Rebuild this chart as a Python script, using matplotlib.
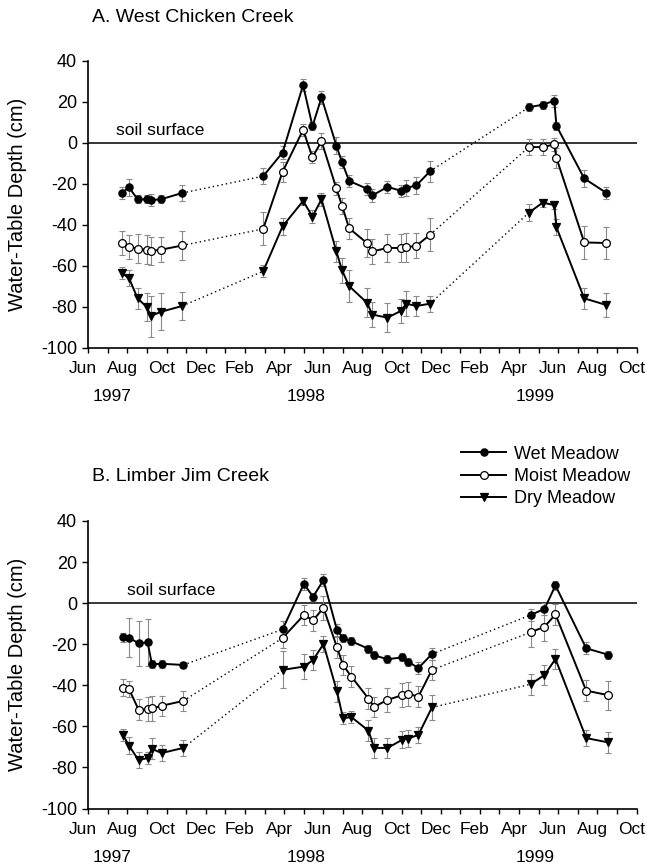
import matplotlib
matplotlib.use('Agg')
import matplotlib.pyplot as plt
import matplotlib.transforms as mtransforms
from matplotlib.lines import Line2D
plt.rc('font', family='Liberation Sans', size=12.5)
plt.rcParams['axes.unicode_minus'] = False

# months counted from 1 Jun 1997
month_ticks = list(range(0, 29))
month_names = ['Jun', 'Aug', 'Oct', 'Dec', 'Feb', 'Apr', 'Jun', 'Aug', 'Oct', 'Dec', 'Feb', 'Apr', 'Jun', 'Aug', 'Oct']
years = ['1997', '1998', '1999']
year_pos = [1.2, 11.1, 22.8]

# --- A. West Chicken Creek ---
A_m97 = [1.70, 2.08, 2.52, 2.98, 3.20, 3.69, 4.80]
A_m98 = [8.93, 9.92, 10.97, 11.45, 11.91, 12.67, 12.96, 13.32, 14.23, 14.51, 15.28, 15.97, 16.24, 16.76, 17.45]
A_m99 = [22.50, 23.21, 23.80, 23.91, 25.33, 26.45]

A_wet97 = [-24.3, -21.7, -27.5, -27.5, -27.8, -27.5, -24.4]
A_wet98 = [-16.2, -4.7, 28.2, 8.2, 22.2, -1.3, -9.4, -18.5, -22.3, -25.6, -21.4, -23.3, -21.9, -20.7, -13.8]
A_wet99 = [17.4, 18.7, 20.6, 8.4, -17.3, -24.3]
A_moist97 = [-48.8, -50.7, -51.6, -52.1, -52.7, -52.1, -50.0]
A_moist98 = [-41.9, -14.1, 6.4, -7.0, 0.9, -22.2, -30.6, -41.6, -48.8, -52.9, -51.2, -51.2, -50.9, -50.1, -44.8]
A_moist99 = [-2.0, -2.0, -0.7, -7.3, -48.5, -48.8]
A_dry97 = [-63.3, -66.0, -75.8, -80.0, -84.4, -82.4, -79.5]
A_dry98 = [-62.6, -40.7, -28.3, -35.9, -27.5, -52.9, -62.1, -69.8, -77.9, -83.7, -85.2, -81.9, -78.4, -79.5, -78.4]
A_dry99 = [-34.0, -29.1, -30.3, -41.1, -75.8, -79.0]

A_wet97_e = [3, 4, 2, 2, 3, 2, 4]
A_wet98_e = [4, 3, 3, 2, 3, 4, 3, 3, 3, 3, 3, 3, 4, 4, 5]
A_wet99_e = [2, 2, 3, 2, 4, 3]
A_moist97_e = [6, 6, 7, 7, 7, 6, 7]
A_moist98_e = [8, 5, 3, 3, 4, 3, 4, 5, 7, 6, 7, 7, 7, 6, 8]
A_moist99_e = [4, 4, 3, 5, 8, 8]
A_dry97_e = [3, 4, 5, 7, 10, 9, 7]
A_dry98_e = [3, 4, 2, 3, 3, 5, 6, 8, 7, 6, 7, 6, 6, 5, 4]
A_dry99_e = [4, 2, 2, 4, 5, 6]

# --- B. Limber Jim Creek ---
B_m97 = [1.76, 2.08, 2.57, 3.03, 3.25, 3.74, 4.85]
B_m98 = [9.92, 11.01, 11.48, 12.01, 12.70, 13.01, 13.44, 14.31, 14.60, 15.28, 16.04, 16.33, 16.86, 17.55]
B_m99 = [22.59, 23.30, 23.86, 25.43, 26.55]

B_wet97 = [-16.7, -16.8, -19.6, -19.1, -29.8, -29.5, -30.1]
B_wet98 = [-12.8, 9.4, 3.1, 11.2, -13.1, -17.0, -18.6, -22.2, -25.4, -27.3, -26.4, -28.5, -31.6, -24.8]
B_wet99 = [-5.8, -2.8, 8.6, -22.0, -25.1]
B_moist97 = [-41.1, -41.9, -51.9, -51.6, -51.3, -50.0, -47.6]
B_moist98 = [-17.0, -5.8, -8.4, -2.3, -21.5, -30.2, -35.8, -46.5, -50.5, -47.1, -44.8, -44.2, -45.5, -32.5]
B_moist99 = [-14.2, -11.5, -5.5, -42.6, -44.8]
B_dry97 = [-64.1, -69.4, -76.5, -75.4, -70.9, -73.0, -70.5]
B_dry98 = [-32.5, -30.9, -27.7, -19.9, -43.0, -56.0, -55.5, -62.1, -70.5, -70.5, -66.5, -66.0, -64.1, -50.8]
B_dry99 = [-39.5, -35.0, -27.2, -65.7, -67.8]

B_wet97_e = [2, 9.5, 11, 11.5, 2, 2, 1.5]
B_wet98_e = [4, 3, 2, 3, 3, 2, 2, 2, 2, 2, 2, 2, 3, 3]
B_wet99_e = [3, 3, 2, 3, 2]
B_moist97_e = [4, 4, 5, 6, 6, 5, 5]
B_moist98_e = [5, 5, 5, 6, 5, 5, 5, 5, 5, 6, 6, 6, 5, 5]
B_moist99_e = [7, 7, 5, 5, 7]
B_dry97_e = [3, 4, 4, 3, 5, 4, 4]
B_dry98_e = [9, 6, 5, 4, 5, 3, 3, 5, 5, 5, 4, 4, 4, 6]
B_dry99_e = [5, 5, 5, 4, 5]

styles = {
    'Wet Meadow': dict(marker='o', mfc='black', ms=5.2),
    'Moist Meadow': dict(marker='o', mfc='white', ms=5.6),
    'Dry Meadow': dict(marker='v', mfc='black', ms=6),
}


def draw_series(ax, months, values, errors, style):
    for m, v, e in zip(months, values, errors):
        ax.errorbar(m, v, yerr=e, fmt='none', ecolor='#8a8a8a', elinewidth=0.8,
                    capsize=2.2, capthick=0.8, zorder=1)
    for i in range(len(months) - 1):
        ax.plot([months[i][-1], months[i + 1][0]], [values[i][-1], values[i + 1][0]],
                linestyle=(0, (1, 2.2)), color='black', lw=1.0, zorder=2)
    for m, v in zip(months, values):
        ax.plot(m, v, color='black', lw=1.4, marker=style['marker'], ms=style['ms'],
                mfc=style['mfc'], mec='black', mew=0.9, zorder=3)


def setup_axis(ax, title, text_x):
    ax.axhline(0, color='black', lw=1.1, zorder=0)
    ax.text(text_x, 2.5, 'soil surface', ha='left', va='bottom')
    ax.set_xlim(0, 28)
    ax.set_ylim(-100, 40)
    ax.set_xticks(month_ticks)
    ax.set_xticklabels([month_names[i // 2] if i % 2 == 0 else '' for i in month_ticks])
    ax.set_yticks(range(-100, 41, 20))
    ax.tick_params(axis='x', direction='out', length=3.5, width=1, pad=6)
    ax.tick_params(axis='y', direction='out', length=4, width=1, pad=4, labelsize=13)
    # labels sit a little left of their ticks in the original
    shift = mtransforms.ScaledTranslation(-5 / 100, 0, fig.dpi_scale_trans)
    for tick in ax.xaxis.get_major_ticks():
        tick.label1.set_transform(tick.label1.get_transform() + shift)
    ax.spines['top'].set_visible(False)
    ax.spines['right'].set_visible(False)
    ax.spines['left'].set_linewidth(1.2)
    ax.spines['bottom'].set_linewidth(1.2)
    ax.set_ylabel('Water-Table Depth (cm)', fontsize=14.5)
    ax.yaxis.set_label_coords(-0.112, 0.5)
    for yr, xp in zip(years, year_pos):
        ax.annotate(yr, xy=(xp, 0), xycoords=('data', 'axes fraction'),
                    xytext=(0, -35), textcoords='offset points', ha='center', va='center')
    ax.text(0.006, 1.153, title, transform=ax.transAxes, fontsize=14,
            ha='left', va='center')


fig = plt.figure(figsize=(6.47, 8.65), dpi=100)
axA = fig.add_axes([0.1365, 0.5977, 0.8473, 0.3318])
axB = fig.add_axes([0.1365, 0.0653, 0.8473, 0.3324])

setup_axis(axA, 'A. West Chicken Creek', 1.4)
draw_series(axA, [A_m97, A_m98, A_m99], [A_wet97, A_wet98, A_wet99], [A_wet97_e, A_wet98_e, A_wet99_e], styles['Wet Meadow'])
draw_series(axA, [A_m97, A_m98, A_m99], [A_moist97, A_moist98, A_moist99], [A_moist97_e, A_moist98_e, A_moist99_e], styles['Moist Meadow'])
draw_series(axA, [A_m97, A_m98, A_m99], [A_dry97, A_dry98, A_dry99], [A_dry97_e, A_dry98_e, A_dry99_e], styles['Dry Meadow'])

setup_axis(axB, 'B. Limber Jim Creek', 1.96)
draw_series(axB, [B_m97, B_m98, B_m99], [B_wet97, B_wet98, B_wet99], [B_wet97_e, B_wet98_e, B_wet99_e], styles['Wet Meadow'])
draw_series(axB, [B_m97, B_m98, B_m99], [B_moist97, B_moist98, B_moist99], [B_moist97_e, B_moist98_e, B_moist99_e], styles['Moist Meadow'])
draw_series(axB, [B_m97, B_m98, B_m99], [B_dry97, B_dry98, B_dry99], [B_dry97_e, B_dry98_e, B_dry99_e], styles['Dry Meadow'])

handles = [Line2D([], [], color='black', lw=1.4, marker=s['marker'], ms=s['ms'], mfc=s['mfc'],
                  mec='black', mew=0.9) for s in styles.values()]
fig.legend(handles, list(styles.keys()), loc='center left', bbox_to_anchor=(461 / 647, 1 - 476.5 / 865),
           frameon=False, fontsize=13, handlelength=2.5, handletextpad=0.45, labelspacing=0.3,
           borderpad=0, borderaxespad=0)

plt.savefig('out.png', dpi=100)
